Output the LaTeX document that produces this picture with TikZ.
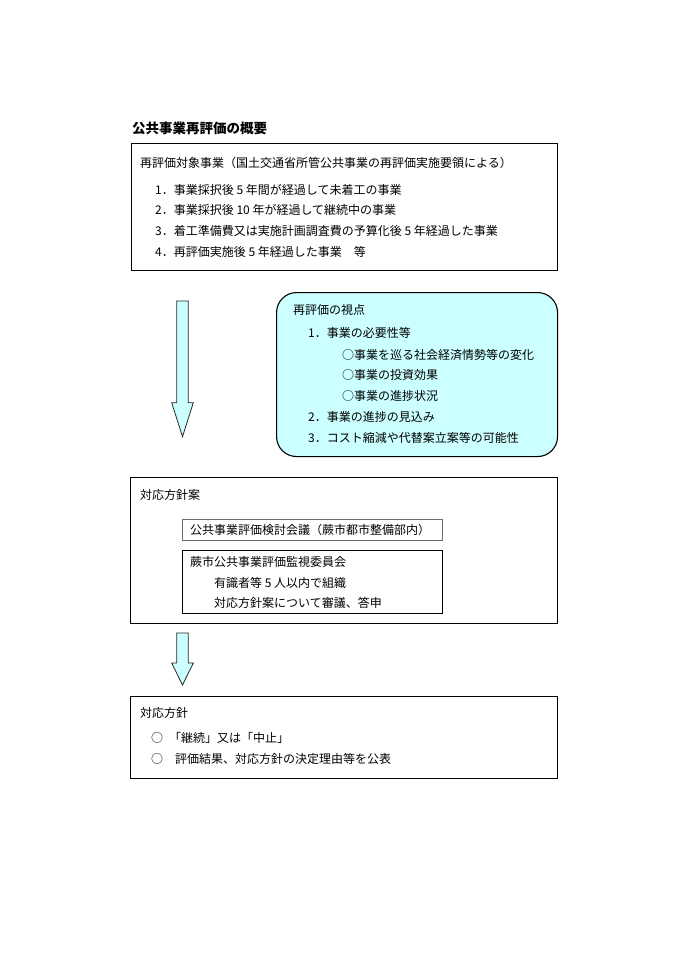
\documentclass[tikz,border=0pt]{standalone}
\usepackage{fontspec}
\setmainfont{Noto Sans CJK JP}
\usetikzlibrary{positioning}
\definecolor{paleblue}{HTML}{CCFFFF}
\definecolor{greyline}{HTML}{6E6E6E}

\begin{document}
\begin{tikzpicture}[x=1pt,y=-1pt,line join=miter,
  txt/.style={anchor=west,inner sep=0pt,font=\fontsize{12}{14}\selectfont},
  frame/.style={draw,line width=1.1pt,inner sep=0pt,anchor=north west},
  blockarrow/.style={fill=paleblue,draw=black!85,line width=0.8pt}]
  \useasboundingbox (0,0) rectangle (686,971);
  % title
  \node[txt,font=\fontsize{13.5}{16}\selectfont\bfseries] (title) at (132,128) {公共事業再評価の概要};
  % projects to be re-evaluated
  \node[frame,minimum width=426,minimum height=127] (target) at (131,143) {};
  \node[txt] (targethd) at (140,163) {再評価対象事業（国土交通省所管公共事業の再評価実施要領による）};
  \node[txt] (t1) at (155,190) {1．事業採択後 5 年間が経過して未着工の事業};
  \node[txt] (t2) at (155,210) {2．事業採択後 10 年が経過して継続中の事業};
  \node[txt] (t3) at (155,231) {3．着工準備費又は実施計画調査費の予算化後 5 年経過した事業};
  \node[txt] (t4) at (155,252) {4．再評価実施後 5 年経過した事業\quad 等};
  % first arrow
  \filldraw[blockarrow] (176.7,301) -- (188.3,301) -- (188.3,402.7) -- (193.3,402.7)
    -- (182.5,436.7) -- (171.7,402.7) -- (176.7,402.7) -- cycle;
  % viewpoints
  \node[frame,fill=paleblue,rounded corners=20pt,minimum width=281,minimum height=164] (view) at (276,292) {};
  \node[txt] (viewhd) at (293,310) {再評価の視点};
  \node[txt] (v1) at (308,333) {1．事業の必要性等};
  \node[txt] (v1a) at (342,355) {○事業を巡る社会経済情勢等の変化};
  \node[txt] (v1b) at (342,375) {○事業の投資効果};
  \node[txt] (v1c) at (342,396) {○事業の進捗状況};
  \node[txt] (v2) at (308,417) {2．事業の進捗の見込み};
  \node[txt] (v3) at (308,438) {3．コスト縮減や代替案立案等の可能性};
  % draft policy
  \node[frame,minimum width=427,minimum height=146] (draft) at (130,477) {};
  \node[txt] (drafthd) at (140,495) {対応方針案};
  \node[frame,draw=greyline,line width=0.9pt,minimum width=260,minimum height=21] (council) at (182,519) {};
  \node[txt] (counciltx) at (190,530) {公共事業評価検討会議（蕨市都市整備部内）};
  \node[frame,minimum width=260,minimum height=63] (committee) at (182,550) {};
  \node[txt] (c1) at (190,562) {蕨市公共事業評価監視委員会};
  \node[txt] (c2) at (214,583) {有識者等 5 人以内で組織};
  \node[txt] (c3) at (214,603) {対応方針案について審議、答申};
  % second arrow
  \filldraw[blockarrow] (176.7,633) -- (188.3,633) -- (188.3,663) -- (193.3,663)
    -- (182.5,685) -- (171.7,663) -- (176.7,663) -- cycle;
  % policy
  \node[frame,minimum width=427,minimum height=82] (policy) at (130,696) {};
  \node[txt] (policyhd) at (140,713) {対応方針};
  \node[txt] (p1mark) at (151,738) {○};
  \node[txt] (p1) at (169,738) {「継続」又は「中止」};
  \node[txt] (p2mark) at (151,759) {○};
  \node[txt] (p2) at (175,759) {評価結果、対応方針の決定理由等を公表};
\end{tikzpicture}
\end{document}
